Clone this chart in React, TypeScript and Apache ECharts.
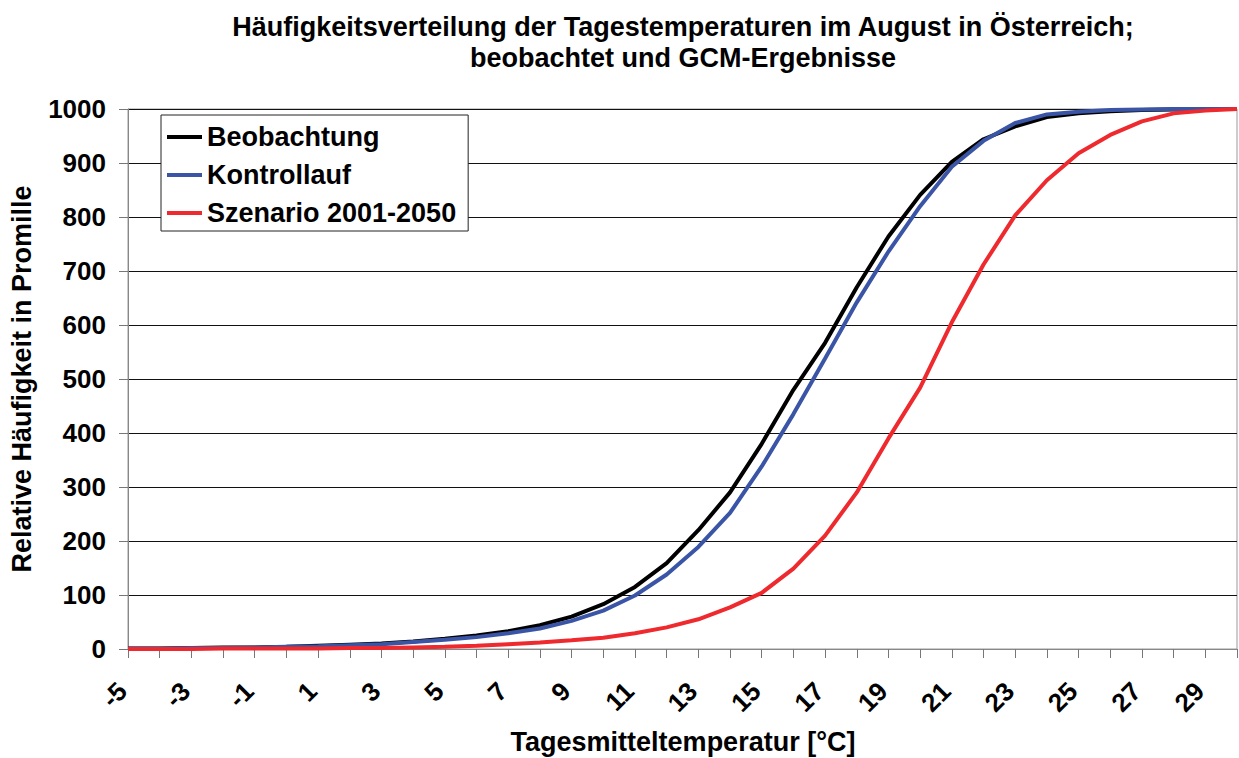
import React, { useEffect, useRef } from "react";
import * as echarts from "echarts";

const temperatures = [
  "-5", "-4", "-3", "-2", "-1", "0", "1", "2", "3", "4", "5", "6", "7", "8", "9", "10", "11", "12",
  "13", "14", "15", "16", "17", "18", "19", "20", "21", "22", "23", "24", "25", "26", "27", "28", "29", "30",
];

const beobachtung = [
  1, 1, 2, 3, 3, 4, 6, 8, 10, 14, 19, 25, 33, 44, 60, 83, 115, 159,
  220, 290, 380, 480, 567, 670, 764, 841, 902, 944, 968, 985, 992, 996, 998, 999, 1000, 1000,
];

const kontrolllauf = [
  1, 1, 2, 2, 3, 4, 5, 7, 9, 13, 17, 22, 29, 38, 52, 71, 99, 138,
  189, 252, 338, 435, 538, 642, 736, 820, 893, 941, 974, 990, 995, 998, 999, 1000, 1000, 1000,
];

const szenario = [
  0, 0, 0, 1, 1, 1, 1, 2, 2, 3, 4, 6, 9, 12, 16, 21, 29, 40,
  55, 77, 104, 149, 210, 290, 390, 484, 605, 712, 803, 868, 918, 952, 977, 992, 997, 1000,
];

const seriesNames = ["Beobachtung", "Kontrollauf", "Szenario 2001-2050"];
const seriesColors = ["#000000", "#3b55a6", "#ee2a2e"];

const titleText = "Häufigkeitsverteilung der Tagestemperaturen im August in Österreich;\nbeobachtet und GCM-Ergebnisse";
const xAxisTitle = "Tagesmitteltemperatur [°C]";
const yAxisTitle = "Relative Häufigkeit in Promille";

const FONT = '"Liberation Sans", Arial, Helvetica, sans-serif';

export default function App() {
  const ref = useRef<HTMLDivElement>(null);

  useEffect(() => {
    if (!ref.current) return;
    const chart = echarts.init(ref.current, undefined, { renderer: "svg" });
    const values = [beobachtung, kontrolllauf, szenario];
    chart.setOption({
      animation: false,
      backgroundColor: "#ffffff",
      textStyle: { fontFamily: FONT },
      title: {
        text: titleText,
        left: 683,
        top: 11,
        padding: 0,
        textAlign: "center",
        textStyle: {
          fontFamily: FONT,
          fontSize: 27,
          fontWeight: "bold",
          color: "#000",
          lineHeight: 31,
        },
      },
      legend: {
        orient: "vertical",
        left: 161,
        top: 115,
        padding: [7, 12, 3, 6],
        itemGap: 8,
        itemWidth: 35,
        itemHeight: 4,
        icon: "rect",
        borderColor: "#222",
        borderWidth: 1,
        backgroundColor: "#fff",
        data: seriesNames,
        textStyle: {
          fontFamily: FONT,
          fontSize: 27,
          fontWeight: "bold",
          color: "#000",
          lineHeight: 30,
        },
      },
      grid: {
        left: 128,
        right: 2,
        top: 109,
        bottom: 109,
        show: true,
        borderColor: "#999",
        borderWidth: 1,
      },
      xAxis: {
        type: "category",
        boundaryGap: false,
        data: temperatures,
        axisLine: { show: true, lineStyle: { color: "#888", width: 1 } },
        axisTick: { show: true, interval: 0, length: 9, lineStyle: { color: "#777" } },
        axisLabel: {
          interval: 1,
          rotate: 45,
          margin: 32,
          padding: [0, 8, 0, 0],
          fontFamily: FONT,
          fontSize: 26,
          fontWeight: "bold",
          color: "#000",
        },
        splitLine: { show: false },
      },
      yAxis: {
        type: "value",
        min: 0,
        max: 1000,
        interval: 100,
        axisLine: { show: true, lineStyle: { color: "#888", width: 1 } },
        axisTick: { show: true, length: 9, lineStyle: { color: "#777" } },
        axisLabel: {
          margin: 22,
          formatter: (v: number) => String(v),
          fontFamily: FONT,
          fontSize: 26,
          fontWeight: "bold",
          color: "#000",
        },
        splitLine: { show: true, lineStyle: { color: "#111", width: 1 } },
      },
      graphic: [
        {
          type: "text",
          x: 683,
          y: 742,
          style: {
            text: xAxisTitle,
            fontFamily: FONT,
            fontSize: 27,
            fontWeight: "bold",
            fill: "#000",
            textAlign: "center",
            textVerticalAlign: "middle",
          },
        },
        {
          type: "text",
          x: 22,
          y: 379,
          rotation: Math.PI / 2,
          style: {
            text: yAxisTitle,
            fontFamily: FONT,
            fontSize: 27,
            fontWeight: "bold",
            fill: "#000",
            textAlign: "center",
            textVerticalAlign: "middle",
          },
        },
      ],
      series: seriesNames.map((name, i) => ({
        name,
        type: "line",
        data: values[i],
        symbol: "none",
        lineStyle: { color: seriesColors[i], width: 4 },
        itemStyle: { color: seriesColors[i] },
        z: 2 + i,
      })),
    });
    return () => chart.dispose();
  }, []);

  return (
    <div
      ref={ref}
      style={{ position: "absolute", left: 0, top: 0, width: 1239, height: 758, background: "#fff" }}
    />
  );
}
